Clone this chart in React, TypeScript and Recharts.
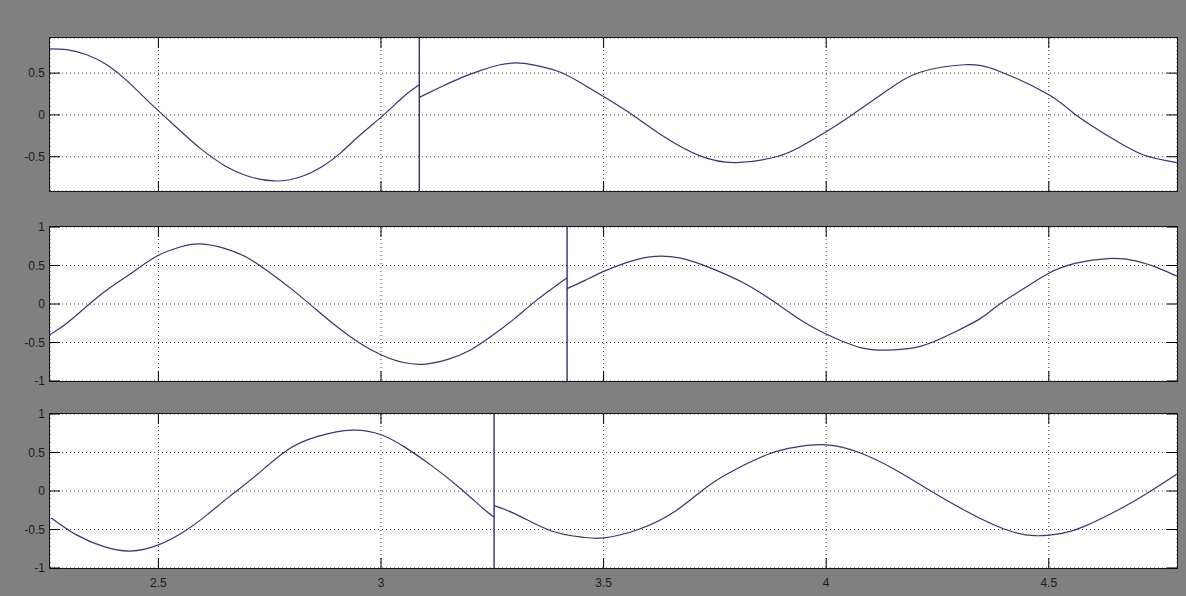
import { LineChart, Line, XAxis, YAxis, CartesianGrid, ReferenceLine } from 'recharts'

// time axis shared by all three scope panels
const xTicks = [2.5, 3, 3.5, 4, 4.5]
const xDomain: [number, number] = [2.2565, 4.788]
const yTicksTop = [-0.5, 0, 0.5]
const yTicksFull = [-1, -0.5, 0, 0.5, 1]
const jumpTimes = [3.086, 3.418, 3.254]

// panel 1, before / after the reset
const t1a = [2.256, 2.294, 2.339, 2.384, 2.429, 2.474, 2.504, 2.549, 2.594, 2.65, 2.7, 2.76, 2.82, 2.87, 2.908, 2.953, 3.006, 3.051, 3.086]
const v1a = [0.79, 0.78, 0.72, 0.6, 0.41, 0.18, 0.03, -0.19, -0.4, -0.61, -0.73, -0.79, -0.74, -0.61, -0.46, -0.24, 0.0, 0.22, 0.36]
const t1b = [3.086, 3.133, 3.178, 3.223, 3.268, 3.313, 3.358, 3.403, 3.45, 3.5, 3.565, 3.636, 3.717, 3.798, 3.888, 3.942, 4.0, 4.058, 4.139, 4.211, 4.31, 4.39, 4.5, 4.561, 4.642, 4.713, 4.788]
const v1b = [0.21, 0.33, 0.44, 0.53, 0.6, 0.62, 0.58, 0.51, 0.38, 0.22, 0.0, -0.26, -0.49, -0.57, -0.5, -0.38, -0.2, 0.0, 0.3, 0.51, 0.6, 0.52, 0.24, 0.0, -0.28, -0.48, -0.57]

// panel 2
const t2a = [2.256, 2.294, 2.339, 2.391, 2.444, 2.496, 2.549, 2.594, 2.65, 2.7, 2.75, 2.8, 2.85, 2.9, 2.95, 3.0, 3.05, 3.1, 3.15, 3.2, 3.25, 3.3, 3.35, 3.418]
const v2a = [-0.4, -0.25, -0.03, 0.21, 0.42, 0.62, 0.74, 0.78, 0.72, 0.6, 0.41, 0.19, -0.05, -0.29, -0.5, -0.66, -0.76, -0.78, -0.72, -0.6, -0.41, -0.19, 0.05, 0.34]
const t2b = [3.418, 3.456, 3.503, 3.553, 3.6, 3.67, 3.744, 3.816, 3.888, 3.96, 4.031, 4.08, 4.13, 4.211, 4.283, 4.346, 4.39, 4.444, 4.5, 4.561, 4.633, 4.695, 4.749, 4.788]
const v2b = [0.2, 0.3, 0.43, 0.54, 0.61, 0.6, 0.46, 0.27, 0.01, -0.27, -0.47, -0.57, -0.6, -0.55, -0.38, -0.19, 0.0, 0.2, 0.4, 0.53, 0.59, 0.56, 0.46, 0.36]

// panel 3
const t3a = [2.259, 2.316, 2.376, 2.437, 2.5, 2.557, 2.609, 2.66, 2.721, 2.789, 2.858, 2.936, 3.0, 3.056, 3.116, 3.177, 3.228, 3.254]
const v3a = [-0.35, -0.57, -0.72, -0.78, -0.7, -0.53, -0.31, -0.07, 0.21, 0.53, 0.71, 0.79, 0.73, 0.56, 0.32, 0.04, -0.22, -0.34]
const t3b = [3.254, 3.306, 3.383, 3.452, 3.5, 3.578, 3.659, 3.729, 3.79, 3.871, 3.932, 4.0, 4.074, 4.154, 4.235, 4.317, 4.398, 4.468, 4.53, 4.58, 4.661, 4.721, 4.788]
const v3b = [-0.19, -0.31, -0.52, -0.6, -0.61, -0.5, -0.27, 0.04, 0.26, 0.48, 0.57, 0.6, 0.5, 0.28, 0.0, -0.27, -0.49, -0.58, -0.55, -0.46, -0.23, -0.03, 0.22]

const zip = (t: number[], v: number[]) => t.map((x, i) => ({ t: x, v: v[i] }))

const FONT = 'Liberation Sans, Arial, sans-serif'
const TEXT = '#1c1c1c'
const curveColor = '#35357a'
const jumpColor = '#1e1e78'
const TICK_LEN = 10
const TICK_COLOR = '#000000'
const PLOT_LEFT = 50
const PLOT_W = 1127

// matlab style: tick marks point into the plot on all four sides.
// bottom axis draws the bottom + top marks, right axis the right + left marks
function BottomTick(props: any) {
  const { x, y, payload, label, plotH } = props
  return (
    <g>
      <line x1={x} x2={x} y1={y} y2={y - TICK_LEN} stroke={TICK_COLOR} />
      <line x1={x} x2={x} y1={y - plotH} y2={y - plotH + TICK_LEN} stroke={TICK_COLOR} />
      {label && (
        <text x={x} y={y + 19} textAnchor="middle" fontSize={12} fontFamily={FONT} fill={TEXT}>
          {String(payload.value)}
        </text>
      )}
    </g>
  )
}

function RightTick(props: any) {
  const { x, y } = props
  return (
    <g>
      <line x1={x} x2={x - TICK_LEN} y1={y} y2={y} stroke={TICK_COLOR} />
      <line x1={x - PLOT_W} x2={x - PLOT_W + TICK_LEN} y1={y} y2={y} stroke={TICK_COLOR} />
    </g>
  )
}

function LeftLabel(props: any) {
  const { y, payload } = props
  return (
    <text x={PLOT_LEFT - 5} y={y + 4} textAnchor="end" fontSize={12} fontFamily={FONT} fill={TEXT}>
      {String(payload.value)}
    </text>
  )
}

interface PanelProps {
  top: number
  height: number
  margin: { top: number; bottom: number; left: number; right: number }
  yDomain: [number, number]
  yTicks: number[]
  before: { t: number; v: number }[]
  after: { t: number; v: number }[]
  jump: number
  showX?: boolean
}

function ScopePanel({ top, height, margin, yDomain, yTicks, before, after, jump, showX }: PanelProps) {
  const xAxisHeight = showX ? 28 : 9
  const plotHeight = height - margin.top - margin.bottom - xAxisHeight
  return (
    <div style={{ position: 'absolute', left: 0, top, width: 1186, height }}>
      {/* white plot area with the black frame; the svg on top is transparent */}
      <div
        style={{
          position: 'absolute',
          left: PLOT_LEFT - 1,
          top: margin.top - 1,
          width: PLOT_W + 2,
          height: plotHeight + 2,
          boxSizing: 'border-box',
          border: '1px solid #111',
          background: '#ffffff'
        }}
      />
      <LineChart width={1186} height={height} margin={margin} style={{ position: 'relative' }}>
        <CartesianGrid xAxisId="b" yAxisId="l" stroke="#3a3a3a" strokeDasharray="1 3" />
        <XAxis
          xAxisId="b"
          type="number"
          dataKey="t"
          domain={xDomain}
          ticks={xTicks}
          allowDataOverflow
          interval={0}
          height={xAxisHeight}
          axisLine={false}
          tickLine={false}
          tickSize={0}
          tickMargin={0}
          tick={(p: any) => <BottomTick {...p} label={showX} plotH={plotHeight} />}
        />
        <YAxis
          yAxisId="l"
          type="number"
          domain={yDomain}
          ticks={yTicks}
          allowDataOverflow
          interval={0}
          width={PLOT_LEFT}
          axisLine={false}
          tickLine={false}
          tickSize={0}
          tickMargin={0}
          tick={(p: any) => <LeftLabel {...p} />}
        />
        <YAxis
          yAxisId="r"
          orientation="right"
          type="number"
          domain={yDomain}
          ticks={yTicks}
          allowDataOverflow
          interval={0}
          width={9}
          axisLine={false}
          tickLine={false}
          tickSize={0}
          tickMargin={0}
          tick={(p: any) => <RightTick {...p} />}
        />
        <ReferenceLine xAxisId="b" yAxisId="l" x={jump} stroke={jumpColor} strokeWidth={1.3} />
        <Line
          xAxisId="b"
          yAxisId="l"
          data={before}
          dataKey="v"
          type="natural"
          stroke={curveColor}
          strokeWidth={1.2}
          dot={false}
          isAnimationActive={false}
        />
        <Line
          xAxisId="b"
          yAxisId="l"
          data={after}
          dataKey="v"
          type="natural"
          stroke={curveColor}
          strokeWidth={1.2}
          dot={false}
          isAnimationActive={false}
        />
      </LineChart>
    </div>
  )
}

export default function App() {
  return (
    <div
      style={{
        position: 'absolute',
        left: 0,
        top: 0,
        width: 1186,
        height: 596,
        background: '#808080',
        overflow: 'hidden'
      }}
    >
      <ScopePanel
        top={0}
        height={200}
        margin={{ top: 38, bottom: 0, left: 0, right: 0 }}
        yDomain={[-0.91, 0.92]}
        yTicks={yTicksTop}
        before={zip(t1a, v1a)}
        after={zip(t1b, v1b)}
        jump={jumpTimes[0]}
      />
      <ScopePanel
        top={200}
        height={190}
        margin={{ top: 27, bottom: 0, left: 0, right: 0 }}
        yDomain={[-1, 1]}
        yTicks={yTicksFull}
        before={zip(t2a, v2a)}
        after={zip(t2b, v2b)}
        jump={jumpTimes[1]}
      />
      <ScopePanel
        top={390}
        height={206}
        margin={{ top: 24, bottom: 0, left: 0, right: 0 }}
        yDomain={[-1, 1]}
        yTicks={yTicksFull}
        before={zip(t3a, v3a)}
        after={zip(t3b, v3b)}
        jump={jumpTimes[2]}
        showX
      />
    </div>
  )
}
